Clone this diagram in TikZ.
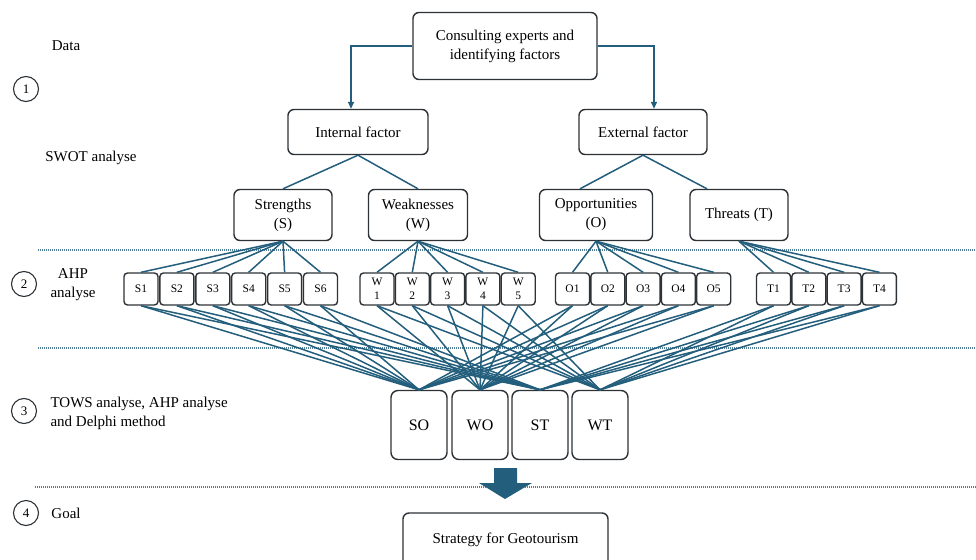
\documentclass[tikz,border=0pt]{standalone}
\usepackage{fontspec}
\setmainfont{Liberation Serif}
\usetikzlibrary{positioning,calc,arrows.meta}
\definecolor{linkblue}{RGB}{35,94,124}
\definecolor{boxline}{RGB}{45,50,55}

\begin{document}
\begin{tikzpicture}[x=1pt,y=-1pt,
	box/.style={draw=boxline, line width=1.4pt, rounded corners=6pt,
		align=center, inner sep=0pt, font=\fontsize{15}{19}\selectfont},
	item/.style={box, rounded corners=3.5pt, minimum width=34pt,
		minimum height=32pt, font=\fontsize{11.5}{14}\selectfont},
	tows/.style={box, rounded corners=7pt, minimum width=56pt,
		minimum height=69pt, font=\fontsize{16}{19}\selectfont},
	link/.style={draw=linkblue, line width=1.5pt},
	divider/.style={draw=linkblue!80, line width=1.1pt,
		dash pattern=on 0.8pt off 1.2pt},
	stagenum/.style={draw=boxline, circle, line width=1.1pt,
		minimum size=25pt, inner sep=0pt, font=\fontsize{13}{13}\selectfont},
	stagetext/.style={font=\fontsize{15}{19}\selectfont, align=center}]

\useasboundingbox (0,0) rectangle (976,559);

% stages on the left
\node[stagetext] (data) at (66,46) {Data};
\node[stagenum] (num1) at (26,89) {1};
\node[stagetext] (swot) at (91,158) {SWOT analyse};
\node[stagenum] (num2) at (24,284) {2};
\node[stagetext] (ahp) at (73,285) {AHP\\analyse};
\node[stagenum] (num3) at (24,411) {3};
\node[stagetext, align=left, anchor=west] (tows) at (47,413)
	{TOWS analyse, AHP analyse\\and Delphi method};
\node[stagenum] (num4) at (26,513) {4};
\node[stagetext] (goal) at (66,513) {Goal};

% separators
\draw[divider] (38,250) -- (976,250);
\draw[divider] (38,348) -- (976,348);
\draw[divider] (35,487) -- (976,487);

% factors
\node[box, minimum width=184pt, minimum height=67pt] (consult) at (505,46)
	{Consulting experts and\\identifying factors};
\node[box, minimum width=140pt, minimum height=45pt] (internal) at (358,132)
	{Internal factor};
\node[box, minimum width=128pt, minimum height=45pt] (external) at (643,132)
	{External factor};

\node[box, minimum width=98pt, minimum height=51pt] (S) at (283,215)
	{Strengths\\(S)};
\node[box, minimum width=99pt, minimum height=51pt] (W) at (418,215)
	{Weaknesses\\(W)};
\node[box, minimum width=113pt, minimum height=51pt] (O) at (596,215)
	{Opportunities\\(O)};
\node[box, minimum width=98pt, minimum height=51pt] (T) at (739,215)
	{Threats (T)};

\draw[link,-{Triangle[length=7pt,width=6pt]}] (consult.west)
	-| ([xshift=-7pt]internal.north);
\draw[link,-{Triangle[length=7pt,width=6pt]}] (consult.east)
	-| ([xshift=11pt]external.north);
\draw[link] (internal.south) -- (S.north);
\draw[link] (internal.south) -- (W.north);
\draw[link] (external.south) -- ([xshift=-16pt]O.north);
\draw[link] (external.south) -- ([xshift=-32pt]T.north);

% sub factors
\foreach \i in {1,...,6}
	\node[item] (S\i) at ({141+35.9*(\i-1)},289) {S\i};
\foreach \i in {1,...,5}
	\node[item] (W\i) at ({377+35.3*(\i-1)},289) {W\\\i};
\foreach \i in {1,...,5}
	\node[item] (O\i) at ({572.5+35.3*(\i-1)},289) {O\i};
\foreach \i in {1,...,4}
	\node[item] (T\i) at ({773.5+35.3*(\i-1)},289) {T\i};

% strategies
\node[tows] (SO) at (419,425) {SO};
\node[tows] (WO) at (480,425) {WO};
\node[tows] (ST) at (540,425) {ST};
\node[tows] (WT) at (600,425) {WT};

\foreach \i in {1,...,6} {
	\draw[link] (S.south) -- (S\i.north);
	\draw[link] (S\i.south) -- (SO.north);
	\draw[link] (S\i.south) -- (ST.north);
}
\foreach \i in {1,...,5} {
	\draw[link] (W.south) -- (W\i.north);
	\draw[link] (W\i.south) -- (WO.north);
	\draw[link] (W\i.south) -- (WT.north);
	\draw[link] (O.south) -- (O\i.north);
	\draw[link] (O\i.south) -- (SO.north);
	\draw[link] (O\i.south) -- (WO.north);
}
\foreach \i in {1,...,4} {
	\draw[link] (T.south) -- (T\i.north);
	\draw[link] (T\i.south) -- (ST.north);
	\draw[link] (T\i.south) -- (WT.north);
}

% goal
\node[box, minimum width=205pt, minimum height=54pt] (goalbox) at (505.5,540)
	{Strategy for Geotourism};
\fill[linkblue] (494,468) -- (517,468) -- (517,483) -- (532,483) -- (505,499)
	-- (479,483) -- (494,483) -- cycle;

\end{tikzpicture}
\end{document}
